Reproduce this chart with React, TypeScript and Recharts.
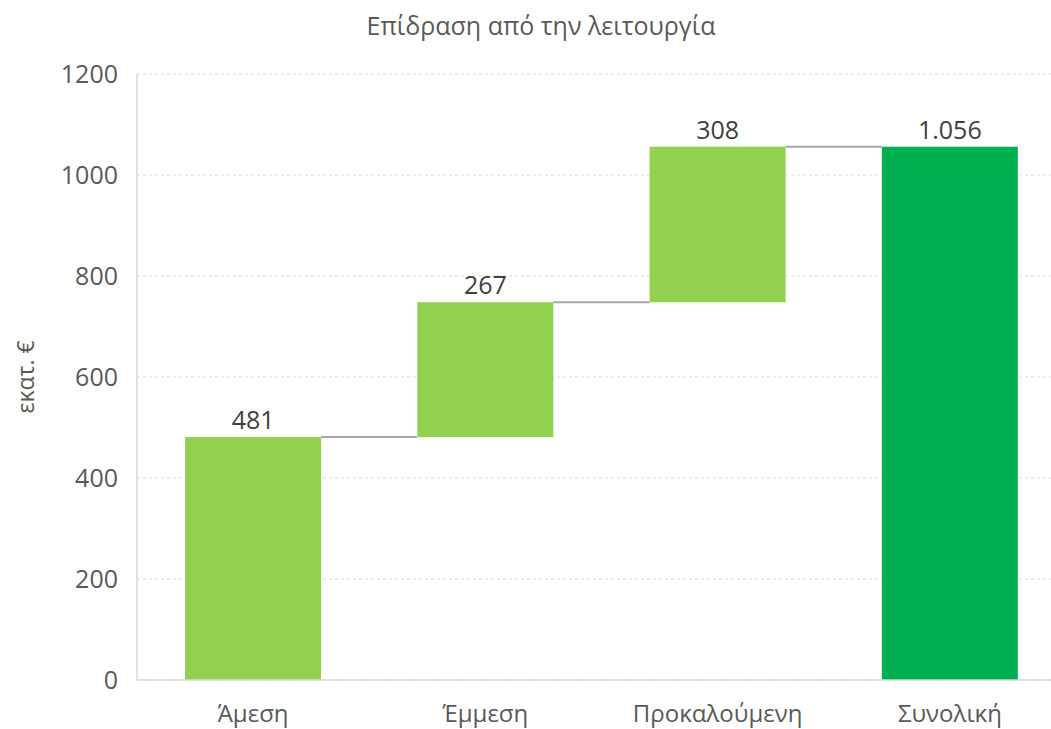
import { ComposedChart, Bar, XAxis, YAxis, CartesianGrid, LabelList } from "recharts";

const categories = ["Άμεση", "Έμμεση", "Προκαλούμενη", "Συνολική"];
const steps = [481, 267, 308, 1056];
const isTotal = [false, false, false, true];
const valueLabels = ["481", "267", "308", "1.056"];
const yTicks = [0, 200, 400, 600, 800, 1000, 1200];

const FONT = "'Open Sans', 'Liberation Sans', sans-serif";
const CAT_GAP = 0.207;

// waterfall: invisible base + visible step, stacked
let running = 0;
const data = categories.map((name, i) => {
  const base = isTotal[i] ? 0 : running;
  if (!isTotal[i]) running += steps[i];
  return { name, base, value: steps[i], label: valueLabels[i], total: isTotal[i] };
});

function StepBar(props: any) {
  const { x, y, width, height, index, payload } = props;
  // gap between neighbouring bars follows from barCategoryGap
  const gap = (width * 2 * CAT_GAP) / (1 - 2 * CAT_GAP);
  return (
    <g>
      <rect x={x} y={y} width={width} height={height} fill={payload.total ? "#00B050" : "#92D050"} />
      {index < categories.length - 1 && (
        <line x1={x + width} x2={x + width + gap} y1={y} y2={y} stroke="#A6A6A6" strokeWidth={2} />
      )}
    </g>
  );
}

export default function App() {
  return (
    <div
      style={{
        position: "absolute",
        left: 0,
        top: 0,
        width: 1051,
        height: 729,
        overflow: "hidden",
        background: "#fff",
        fontFamily: FONT,
      }}
    >
      <div
        style={{
          position: "absolute",
          top: 8,
          left: 291,
          width: 500,
          textAlign: "center",
          fontSize: 25,
          color: "#595959",
        }}
      >
        Επίδραση από την λειτουργία
      </div>
      <ComposedChart
        width={1070}
        height={729}
        data={data}
        margin={{ top: 74, right: 4, bottom: 0, left: 0 }}
        barCategoryGap={`${CAT_GAP * 100}%`}
      >
        <CartesianGrid vertical={false} stroke="#D9D9D9" strokeDasharray="3 3" />
        <XAxis
          dataKey="name"
          height={49}
          tickLine={false}
          tickSize={0}
          tickMargin={25}
          axisLine={{ stroke: "#D9D9D9", strokeWidth: 1.5 }}
          tick={{ fill: "#595959", fontSize: 24, fontFamily: FONT }}
        />
        <YAxis
          width={137}
          domain={[0, 1200]}
          ticks={yTicks}
          tickLine={false}
          tickSize={0}
          tickMargin={19}
          axisLine={{ stroke: "#D9D9D9", strokeWidth: 1.5 }}
          tick={{ fill: "#595959", fontSize: 25, fontFamily: FONT }}
          label={{
            value: "εκατ. €",
            angle: -90,
            position: "insideLeft",
            offset: 26,
            style: { fill: "#595959", fontSize: 23, fontFamily: FONT, textAnchor: "middle" },
          }}
        />
        <Bar dataKey="base" stackId="w" fill="transparent" isAnimationActive={false} />
        <Bar dataKey="value" stackId="w" shape={<StepBar />} isAnimationActive={false}>
          <LabelList
            dataKey="label"
            position="top"
            offset={8}
            style={{ fill: "#404040", fontSize: 25, fontFamily: FONT }}
          />
        </Bar>
      </ComposedChart>
    </div>
  );
}
